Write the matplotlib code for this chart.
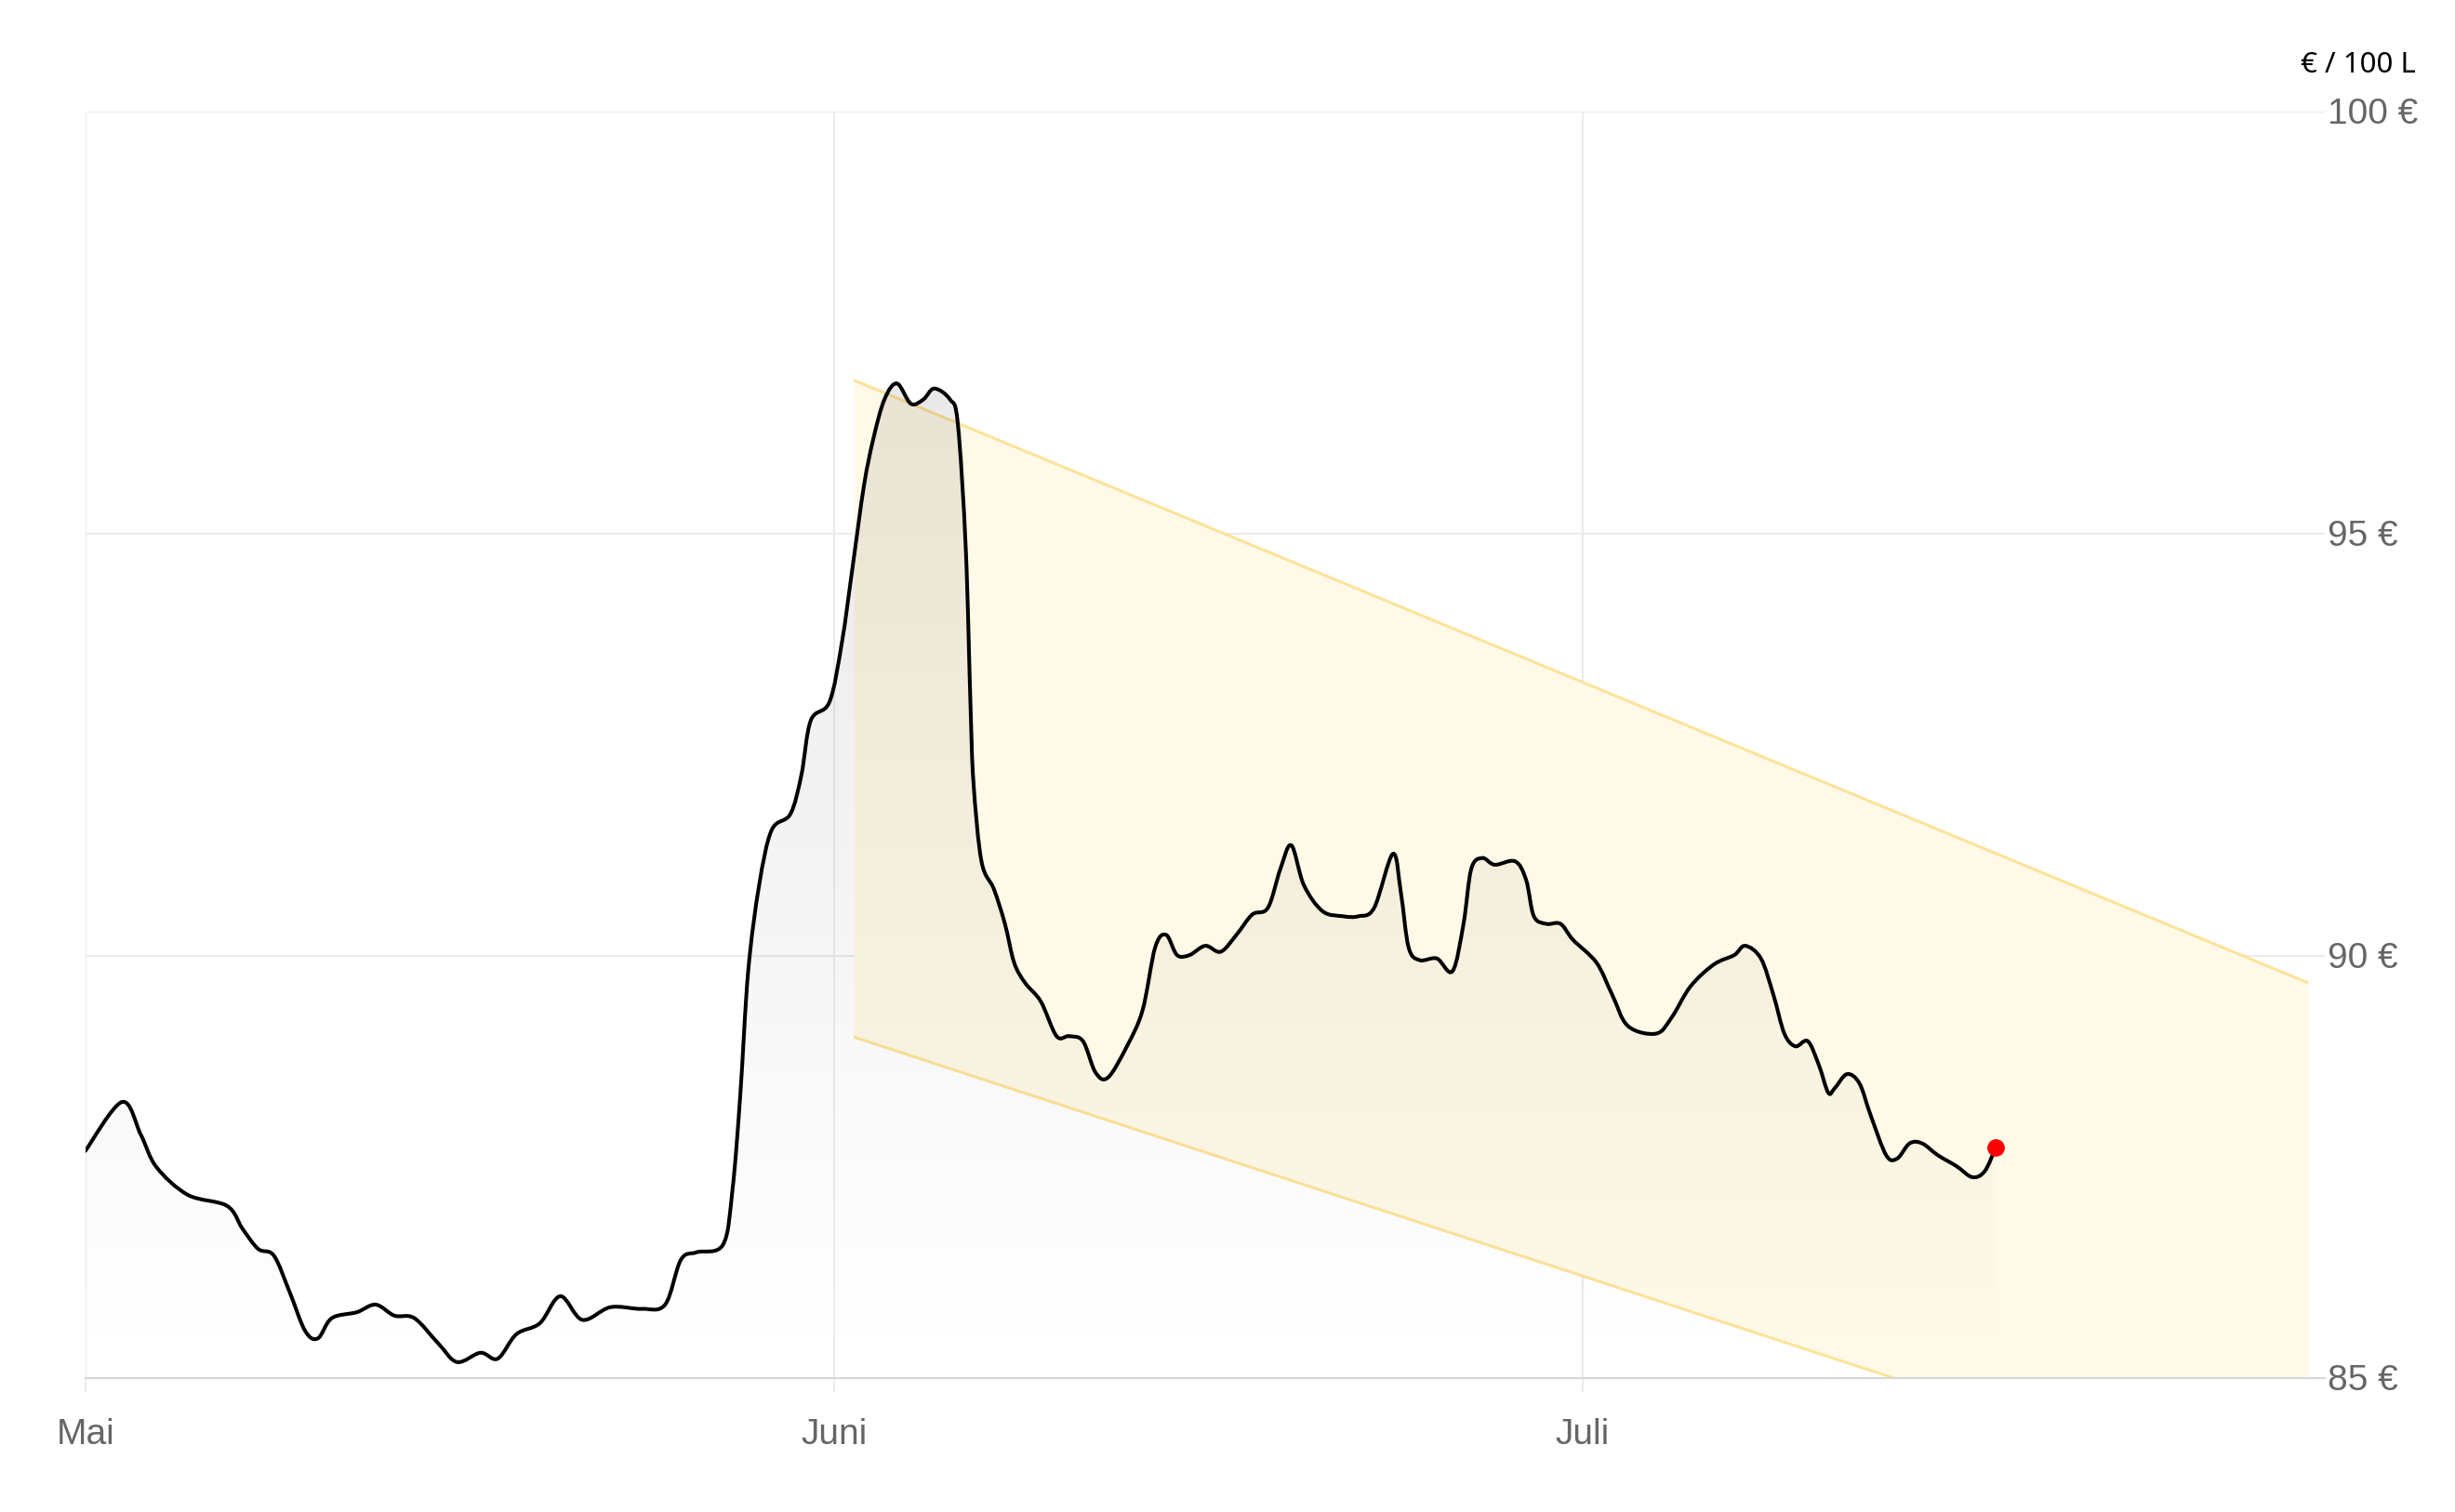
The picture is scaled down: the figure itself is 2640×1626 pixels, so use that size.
import matplotlib
matplotlib.use("Agg")
import matplotlib.pyplot as plt
import matplotlib.transforms as mtransforms
import numpy as np
from matplotlib.path import Path
from matplotlib.patches import PathPatch

# price curve (x in days after 1 May, month ticks every 30 units), € / 100 L
days = [0, 1.47, 2.23, 2.85, 4.11, 5.68, 6.30, 6.93, 7.56, 8.19, 8.81, 9.32, 9.88,
        10.88, 11.64, 12.39, 13.19, 14.15, 14.90, 15.84, 16.53, 17.28, 18.22, 19.04,
        19.92, 21.05, 22.30, 23.24, 23.87, 24.50, 25.56, 25.94, 26.25, 26.57, 27.01,
        27.51, 28.26, 28.70, 29.08, 29.83, 30.33, 30.77, 31.21, 31.59, 32.03, 32.53,
        33.09, 33.59, 34.03, 34.66, 34.97, 35.29, 35.48, 35.60, 35.92, 36.42, 36.86,
        37.23, 37.67, 38.30, 38.93, 39.43, 39.99, 40.49, 40.99, 41.75, 42.38, 42.88,
        43.32, 43.76, 44.26, 44.89, 45.51, 46.14, 46.77, 47.40, 47.90, 48.34, 48.84,
        49.59, 50.41, 51.03, 51.66, 52.41, 52.73, 53.04, 53.48, 54.17, 54.80, 55.24,
        55.55, 55.99, 56.49, 57.31, 57.75, 58.06, 58.56, 59.13, 59.63, 60.57, 61.20,
        61.83, 62.96, 63.58, 64.34, 65.28, 66.09, 66.53, 67.16, 67.66, 68.10, 68.54,
        69.04, 69.48, 69.86, 70.11, 70.61, 71.11, 71.55, 72.18, 72.62, 73.12, 73.62,
        74.25, 75.00, 75.63, 76.13, 76.57]
price = [87.69, 88.27, 87.88, 87.50, 87.17, 87.04, 86.77, 86.53, 86.45, 86.02, 85.56,
         85.47, 85.71, 85.78, 85.87, 85.74, 85.71, 85.41, 85.19, 85.30, 85.23, 85.52,
         85.65, 85.97, 85.69, 85.84, 85.82, 85.87, 86.40, 86.49, 86.58, 87.23, 88.34,
         89.82, 90.84, 91.49, 91.68, 92.14, 92.79, 93.01, 93.72, 94.64, 95.57, 96.13,
         96.59, 96.78, 96.54, 96.59, 96.72, 96.59, 96.31, 94.83, 92.97, 92.05, 91.12,
         90.79, 90.38, 89.92, 89.68, 89.46, 89.05, 89.05, 88.99, 88.62, 88.56, 88.93,
         89.36, 90.10, 90.25, 90.01, 90.01, 90.12, 90.05, 90.25, 90.49, 90.57, 91.03,
         91.31, 90.84, 90.53, 90.47, 90.47, 90.57, 91.21, 90.75, 90.10, 89.95, 89.97,
         89.82, 90.38, 91.03, 91.16, 91.08, 91.12, 90.90, 90.47, 90.38, 90.38, 90.19,
         89.92, 89.54, 89.17, 89.08, 89.27, 89.64, 89.90, 90.01, 90.12, 89.97, 89.54,
         89.08, 88.93, 88.99, 88.71, 88.38, 88.43, 88.60, 88.49, 88.12, 87.64, 87.60,
         87.78, 87.78, 87.64, 87.51, 87.38, 87.45, 87.73]

# trend channel
channel_x = [30.8, 89.1]
channel_upper = [96.82, 89.68]
channel_lower = [89.04, 83.39]

month_pos = [0, 30, 60]
month_labels = ["Mai", "Juni", "Juli"]
y_ticks = [85, 90, 95, 100]
y_labels = ["85 €", "90 €", "95 €", "100 €"]


def spline_path(xs, ys, closed_base=None):
    # cubic bezier through points (catmull-rom style), like a smoothed line chart
    pts = np.column_stack([xs, ys])
    verts = [tuple(pts[0])]
    codes = [Path.MOVETO]
    n = len(pts)
    for i in range(n - 1):
        p0 = pts[max(i - 1, 0)]
        p1 = pts[i]
        p2 = pts[i + 1]
        p3 = pts[min(i + 2, n - 1)]
        c1 = p1 + (p2 - p0) / 6.0
        c2 = p2 - (p3 - p1) / 6.0
        verts += [tuple(c1), tuple(c2), tuple(p2)]
        codes += [Path.CURVE4] * 3
    if closed_base is not None:
        verts += [(xs[-1], closed_base), (xs[0], closed_base), tuple(pts[0])]
        codes += [Path.LINETO, Path.LINETO, Path.CLOSEPOLY]
    return Path(verts, codes)


W, H = 2640, 1626
fig = plt.figure(figsize=(W / 100, H / 100), dpi=100)
ax = fig.add_axes([91.7 / W, 1 - 1482 / H, (2500 - 91.7) / W, (1482 - 120) / H])
ymin, ymax = 85, 100
xmax = (2500 - 91.7) / 26.83
ax.set_xlim(0, xmax)
ax.set_ylim(ymin, ymax)

# channel
ax.fill_between(channel_x, channel_lower, channel_upper, color="#fff9e8", lw=0, zorder=1)
ax.plot(channel_x, channel_upper, color="#fde39a", lw=2.2, zorder=2, solid_capstyle="butt")
ax.plot(channel_x, channel_lower, color="#fde39a", lw=2.2, zorder=2, solid_capstyle="butt")

# gradient under the curve
grad = np.linspace(0, 1, 256).reshape(-1, 1)
rgba = np.zeros((256, 1, 4))
rgba[..., 3] = 0.0075 * (grad * (ymax - ymin))
img = ax.imshow(rgba, extent=[0, xmax, ymin, ymax], origin="lower",
                aspect="auto", zorder=3, interpolation="bilinear")
clip = PathPatch(spline_path(days, price, closed_base=ymin - 1), transform=ax.transData,
                 facecolor="none", edgecolor="none")
ax.add_patch(clip)
img.set_clip_path(clip)

line = PathPatch(spline_path(days, price), transform=ax.transData, facecolor="none",
                 edgecolor="black", lw=2.9, zorder=4, joinstyle="round", capstyle="round")
ax.add_patch(line)
ax.plot(days[-1], price[-1], "o", color="#ff0000", ms=13.5, zorder=5, mec="none")

# grid and axes
for s in ["top", "left", "right"]:
    ax.spines[s].set_visible(False)
ax.spines["bottom"].set_color("#d6d6dc")
ax.spines["bottom"].set_linewidth(1.5)
ax.spines["bottom"].set_zorder(2.5)
ax.set_xticks(month_pos)
ax.set_xticklabels(month_labels)
ax.set_yticks(y_ticks)
ax.set_yticklabels(y_labels)
ax.yaxis.tick_right()
ax.grid(True, color="#ebebef", lw=1.4, zorder=0)
ax.set_axisbelow(True)
ax.tick_params(axis="x", length=11, width=1.4, color="#ebebef", pad=20,
               labelsize=28, labelcolor="#666666")
ax.tick_params(axis="y", length=0, pad=2, labelsize=28, labelcolor="#666666")
for lbl in ax.get_xticklabels() + ax.get_yticklabels():
    lbl.set_fontfamily("Liberation Sans")
shift = mtransforms.ScaledTranslation(0, -2.5 / 100, fig.dpi_scale_trans)
for lbl in ax.get_yticklabels():
    lbl.set_verticalalignment("center")
    lbl.set_transform(lbl.get_transform() + shift)

fig.text(2598 / W, 1 - 70 / H, "€ / 100 L", ha="right", va="center",
         fontsize=22.5, color="black", family="Noto Sans")

fig.savefig("out.png", dpi=100)
